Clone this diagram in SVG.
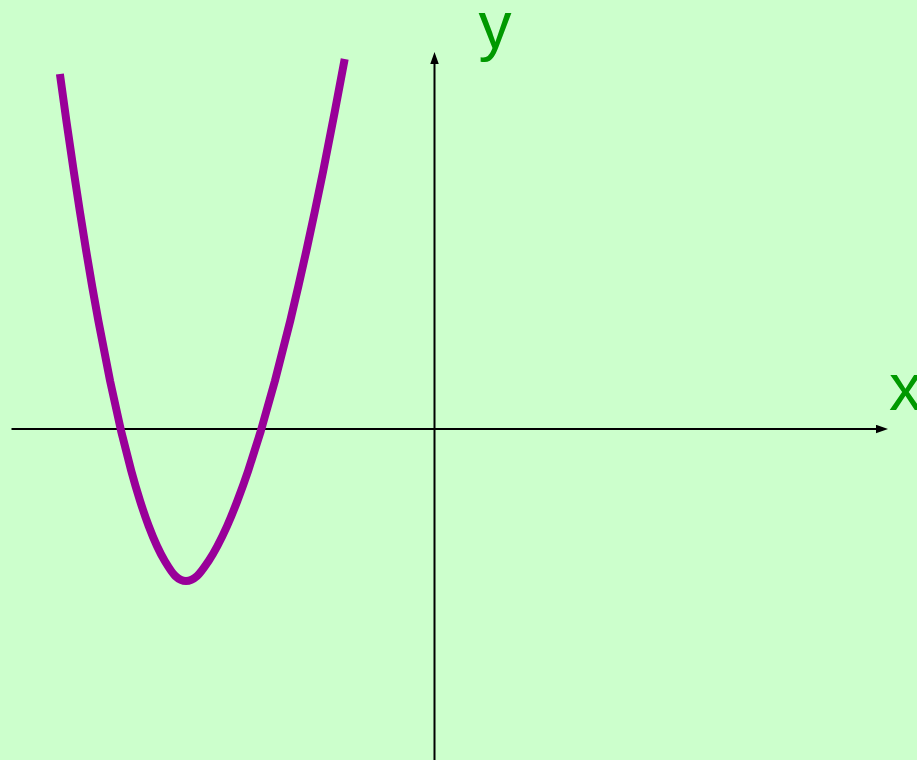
<svg xmlns="http://www.w3.org/2000/svg" width="917" height="760" viewBox="0 0 917 760">
  <style>
    .axis { stroke: #000000; stroke-width: 2; fill: none; }
    .curve { stroke: #990099; stroke-width: 8; fill: none; stroke-linejoin: round; stroke-linecap: butt; }
    .label { font-family: "Liberation Sans", Arial, sans-serif; font-size: 66px; fill: #009900; }
  </style>
  <defs>
    <marker id="arrow" markerUnits="userSpaceOnUse" markerWidth="12" markerHeight="9" refX="2" refY="4.25" orient="auto" viewBox="0 0 12 8.5">
      <path d="M0,0 L12,4.25 L0,8.5 z" fill="#000000"/>
    </marker>
  </defs>
  <rect id="background" x="0" y="0" width="917" height="760" fill="#CCFFCC"/>
  <g id="axes">
    <line id="x-axis" class="axis" x1="11.5" y1="429" x2="878" y2="429" marker-end="url(#arrow)"/>
    <line id="y-axis" class="axis" x1="434.5" y1="760" x2="434.5" y2="62" marker-end="url(#arrow)"/>
  </g>
  <g id="graph">
    <path class="curve" d="M59.9,74 L66.4,121 L73.7,171 L79.8,211 L86.2,251 L92.1,286 L98.4,321 L110.1,381 L121.1,431 L131.3,471 C134.47,482.67 137.2,491.83 140.1,501 C143,510.17 145.88,518.5 148.7,526 C151.52,533.5 154.32,540.17 157,546 C159.68,551.83 161.75,556 164.8,561 C167.85,566 171.77,572.67 175.3,576 C178.83,579.33 182.37,581 186,581 C189.63,581 193.33,579.33 197.1,576 C200.87,572.67 205.22,566 208.6,561 C211.98,556 214.32,551.83 217.4,546 C220.48,540.17 223.78,533.5 227.1,526 C230.42,518.5 233.8,510.17 237.3,501 C240.8,491.83 244.18,482.67 248.1,471 L260.8,431 L274.9,381 L290.2,321 L298.4,286 L306.3,251 L314.9,211 L323.2,171 L334.9,111 L344.7,59"/>
  </g>
  <g id="labels">
    <text id="label-y" class="label" x="478.5" y="48">y</text>
    <text id="label-x" class="label" x="889" y="410">x</text>
  </g>
</svg>
